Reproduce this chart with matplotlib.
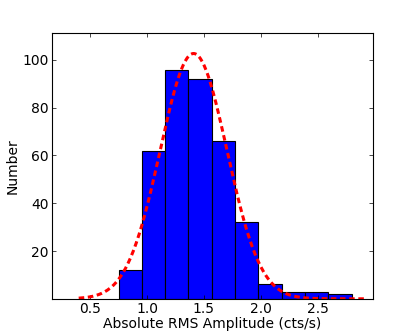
import numpy as np
import matplotlib
matplotlib.use("Agg")
import matplotlib.pyplot as plt

# histogram
bin_edges = [0.75, 0.955, 1.16, 1.365, 1.57, 1.775, 1.98, 2.185, 2.39, 2.595, 2.80]
counts = [12, 62, 96, 92, 66, 32, 6, 3, 3, 2]

# gaussian fit drawn over it
fit_mu = 1.41
fit_sigma = 0.293
fit_amp = 102.7
fit_range = [0.40, 2.92]

yticks = [20, 40, 60, 80, 100]
xticks = [0.5, 1.0, 1.5, 2.0, 2.5]

plt.rcParams['lines.scale_dashes'] = False
fs = 10

fig = plt.figure(figsize=(4.14, 3.32), dpi=100)
ax = fig.add_axes([0.125, 0.1, 0.775, 0.8])

lefts = bin_edges[:-1]
widths = np.diff(bin_edges)
ax.bar(lefts, counts, width=widths, align='edge', color='#0000ff',
       edgecolor='black', linewidth=0.8)

xs = np.linspace(fit_range[0], fit_range[1], 300)
ax.plot(xs, fit_amp * np.exp(-(xs - fit_mu) ** 2 / (2 * fit_sigma ** 2)),
        color='red', linewidth=2.2, dashes=(4, 2.6))

ax.set_xlim(0.163, 2.984)
ax.set_ylim(0, 111.2)
ax.set_xticks(xticks)
ax.set_yticks(yticks)
ax.tick_params(direction='in', top=True, right=True, length=3, width=0.5,
               labelsize=fs, pad=2)
for s in ax.spines.values():
    s.set_linewidth(0.8)

ax.set_xlabel('Absolute RMS Amplitude (cts/s)', fontsize=fs, labelpad=1)
ax.set_ylabel('Number', fontsize=fs, labelpad=2)

fig.savefig('out.png', dpi=100)
